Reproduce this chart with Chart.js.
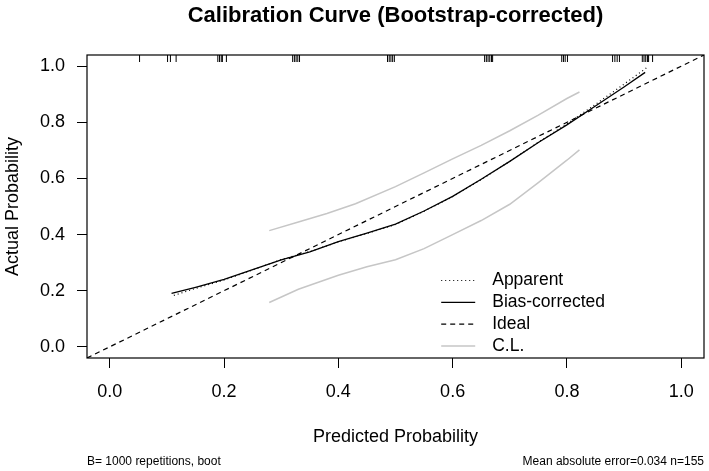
<!DOCTYPE html>
<html>
<head>
<meta charset="utf-8">
<script src="https://cdn.jsdelivr.net/npm/chart.js@4.4.1/dist/chart.umd.min.js"></script>
<style>
  html, body { margin: 0; padding: 0; background: #fff; }
  #wrap { width: 709px; height: 471px; }
</style>
</head>
<body>
<div id="wrap"><canvas id="c" width="709" height="471"></canvas></div>
<script>
const FONT = "'Liberation Sans', Arial, Helvetica, sans-serif";

// axis
const axisMin = -0.04;
const axisMax = 1.04;
const xTicks = [0, 0.2, 0.4, 0.6, 0.8, 1.0];
const yTicks = [0, 0.2, 0.4, 0.6, 0.8, 1.0];

// bias-corrected curve
const biasX = [0.108, 0.15, 0.20, 0.25, 0.30, 0.35, 0.40, 0.45, 0.50, 0.55, 0.60, 0.65, 0.70, 0.75, 0.80, 0.85, 0.90, 0.937];
const biasY = [0.190, 0.212, 0.240, 0.275, 0.310, 0.338, 0.375, 0.405, 0.437, 0.484, 0.536, 0.597, 0.661, 0.728, 0.791, 0.858, 0.926, 0.978];

// apparent curve
const appX = [0.112, 0.15, 0.20, 0.25, 0.30, 0.35, 0.40, 0.45, 0.50, 0.55, 0.60, 0.65, 0.70, 0.75, 0.80, 0.85, 0.90, 0.940];
const appY = [0.183, 0.208, 0.238, 0.274, 0.311, 0.339, 0.374, 0.404, 0.436, 0.483, 0.535, 0.596, 0.661, 0.729, 0.794, 0.864, 0.936, 0.995];

// confidence limits
const upperX = [0.279, 0.33, 0.38, 0.43, 0.50, 0.55, 0.60, 0.65, 0.70, 0.75, 0.80, 0.822];
const upperY = [0.414, 0.445, 0.475, 0.510, 0.571, 0.620, 0.670, 0.718, 0.770, 0.826, 0.885, 0.908];
const lowerX = [0.279, 0.33, 0.40, 0.45, 0.50, 0.55, 0.60, 0.65, 0.70, 0.75, 0.80, 0.822];
const lowerY = [0.158, 0.205, 0.255, 0.285, 0.310, 0.350, 0.400, 0.450, 0.508, 0.585, 0.665, 0.702];

// ideal line
const idealX = [-0.04, 1.04];
const idealY = [-0.04, 1.04];

// rug of predicted probabilities (top)
const rugX = [0.052, 0.101, 0.106, 0.116, 0.189, 0.192, 0.195, 0.197, 0.204,
  0.320, 0.323, 0.326, 0.329, 0.332, 0.486, 0.489, 0.492, 0.495, 0.498,
  0.656, 0.659, 0.662, 0.665, 0.668, 0.670, 0.791, 0.794, 0.797, 0.801,
  0.880, 0.884, 0.888, 0.892, 0.932, 0.935, 0.938, 0.941, 0.943, 0.950];
const rugLevel = 1.0275;

const legendLabels = ["Apparent", "Bias-corrected", "Ideal", "C.L."];
const footLeft = "B= 1000 repetitions, boot";
const footRight = "Mean absolute error=0.034 n=155";

const zip = (xs, ys) => xs.map((x, i) => ({ x, y: ys[i] }));

const lineDs = (label, xs, ys, color, width, dash) => ({
  label, data: zip(xs, ys), showLine: true, borderColor: color, backgroundColor: color,
  borderWidth: width, borderDash: dash, pointRadius: 0, tension: 0, fill: false,
});

const datasets = [
  lineDs("C.L.", upperX, upperY, "#c6c6c6", 1.5, []),
  lineDs("C.L. lower", lowerX, lowerY, "#c6c6c6", 1.5, []),
  lineDs("Ideal", idealX, idealY, "#000", 1.2, [5, 4]),
  lineDs("Apparent", appX, appY, "#000", 1.2, [1, 3]),
  lineDs("Bias-corrected", biasX, biasY, "#000", 1.3, []),
  {
    label: "rug", data: rugX.map(x => ({ x, y: rugLevel })), showLine: false,
    pointStyle: "line", rotation: 90, pointRadius: 3.5, borderColor: "#000", borderWidth: 1,
  },
];

// plot box, legend and footer text (R style)
const rStyle = {
  id: "rStyle",
  afterDatasetsDraw(chart) {
    const { ctx, chartArea: a } = chart;
    ctx.save();
    ctx.strokeStyle = "#000";
    ctx.lineWidth = 1.2;
    ctx.setLineDash([]);
    ctx.strokeRect(a.left, a.top, a.right - a.left, a.bottom - a.top);

    // legend
    const x0 = chart.scales.x.getPixelForValue(0.58);
    ctx.font = "17.5px " + FONT;
    ctx.textBaseline = "middle";
    ctx.fillStyle = "#000";
    legendLabels.forEach((lab, i) => {
      const ds = chart.data.datasets.find(d => d.label === lab);
      const y = 280.5 + i * 21.8;
      ctx.strokeStyle = ds.borderColor;
      ctx.lineWidth = ds.borderWidth;
      ctx.setLineDash(ds.borderDash || []);
      ctx.beginPath();
      ctx.moveTo(x0, y);
      ctx.lineTo(x0 + 34, y);
      ctx.stroke();
      ctx.fillText(lab, x0 + 51, y);
    });

    // footer
    ctx.font = "12px " + FONT;
    ctx.textBaseline = "middle";
    ctx.textAlign = "left";
    ctx.fillText(footLeft, a.left, 462);
    ctx.textAlign = "right";
    ctx.fillText(footRight, a.right, 462);
    ctx.restore();
  },
};

new Chart(document.getElementById("c"), {
  type: "scatter",
  data: { datasets },
  plugins: [rStyle],
  options: {
    responsive: false,
    animation: false,
    devicePixelRatio: 1,
    layout: { padding: { left: 0, right: 3, top: 0, bottom: 0 } },
    plugins: {
      legend: { display: false },
      tooltip: { enabled: false },
      title: {
        display: true,
        fullSize: false,
        text: "Calibration Curve (Bootstrap-corrected)",
        color: "#000",
        font: { family: FONT, size: 22, weight: "bold", lineHeight: 1.2 },
        padding: { top: 3, bottom: 25.6 },
      },
    },
    scales: {
      x: {
        type: "linear", min: axisMin, max: axisMax,
        afterBuildTicks: s => { s.ticks = xTicks.map(v => ({ value: v })); },
        afterFit: s => { s.height = 113; },
        grid: { drawOnChartArea: false, drawTicks: true, tickLength: 10, color: "#000", lineWidth: 1 },
        border: { display: false },
        ticks: {
          color: "#000", padding: 13, maxRotation: 0,
          font: { family: FONT, size: 18 },
          callback: v => Number(v).toFixed(1),
        },
        title: {
          display: true, text: "Predicted Probability", color: "#000",
          font: { family: FONT, size: 18, lineHeight: 1.2 },
          padding: { top: 0, bottom: 23.2 },
        },
      },
      y: {
        type: "linear", min: axisMin, max: axisMax,
        afterBuildTicks: s => { s.ticks = yTicks.map(v => ({ value: v })); },
        afterFit: s => { s.width = 87; },
        grid: { drawOnChartArea: false, drawTicks: true, tickLength: 10, color: "#000", lineWidth: 1 },
        border: { display: false },
        ticks: {
          color: "#000", padding: 12,
          font: { family: FONT, size: 18 },
          callback: v => Number(v).toFixed(1),
        },
        title: {
          display: true, text: "Actual Probability", color: "#000",
          font: { family: FONT, size: 18, lineHeight: 1.2 },
          padding: { top: 2, bottom: 0 },
        },
      },
    },
  },
});
</script>
</body>
</html>
